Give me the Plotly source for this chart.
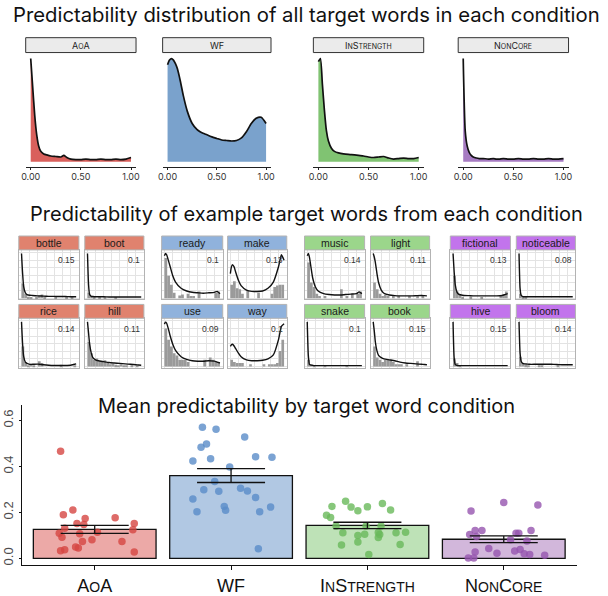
import plotly.graph_objects as go

W, H = 608, 596

# ---------------- data ----------------
CONDITIONS = ["AoA", "WF", "InStrength", "NonCore"]

# overall predictability densities (peak-normalised), one per condition
TOP_X = [0, 0.02, 0.04, 0.06, 0.08, 0.1, 0.13, 0.16, 0.2, 0.25, 0.3, 0.33, 0.36,
         0.4, 0.45, 0.5, 0.55, 0.6, 0.65, 0.7, 0.75, 0.8, 0.85, 0.9, 0.95, 1.0]
dens_aoa = [1.0, 0.72, 0.45, 0.26, 0.15, 0.10, 0.075, 0.065, 0.055, 0.05, 0.045, 0.06, 0.04,
            0.025, 0.02, 0.02, 0.025, 0.02, 0.02, 0.025, 0.02, 0.02, 0.025, 0.02, 0.025, 0.04]
dens_wf = [0.94, 0.985, 1.0, 0.985, 0.95, 0.90, 0.78, 0.64, 0.49, 0.37, 0.31, 0.29, 0.275,
           0.26, 0.24, 0.225, 0.21, 0.205, 0.20, 0.205, 0.23, 0.29, 0.37, 0.42, 0.43, 0.37]
dens_instr = [0.97, 1.0, 0.75, 0.5, 0.3, 0.2, 0.13, 0.10, 0.085, 0.075, 0.07, 0.068, 0.065,
              0.06, 0.055, 0.045, 0.04, 0.045, 0.05, 0.035, 0.025, 0.03, 0.035, 0.03, 0.03, 0.04]
dens_noncore = [1.0, 0.30, 0.15, 0.09, 0.06, 0.045, 0.035, 0.03, 0.03, 0.025, 0.03, 0.025, 0.025,
                0.03, 0.025, 0.025, 0.03, 0.025, 0.025, 0.03, 0.025, 0.025, 0.03, 0.025, 0.025, 0.03]
TOP_DENS = [dens_aoa, dens_wf, dens_instr, dens_noncore]

# example words: histogram (20 bins of width 0.05) and density, peak-normalised
WORDS = ["bottle", "boot", "rice", "hill",
         "ready", "make", "use", "way",
         "music", "light", "snake", "book",
         "fictional", "noticeable", "hive", "bloom"]
WORD_LABELS = ["0.15", "0.1", "0.14", "0.11",
               "0.1", "0.13", "0.09", "0.1",
               "0.14", "0.11", "0.1", "0.15",
               "0.13", "0.08", "0.15", "0.14"]
BIN_CENTERS = [0.025 + 0.05 * i for i in range(20)]
HIST = {
    "bottle": [0.33, 0.10, 0.03, 0.02, 0, 0.02, 0.06, 0.08, 0.02, 0, 0, 0, 0.02, 0, 0, 0, 0.03, 0, 0.02, 0],
    "boot": [0.12, 0.05, 0.02, 0, 0.03, 0, 0.02, 0, 0, 0, 0.02, 0, 0, 0, 0, 0, 0, 0, 0, 0],
    "rice": [0.45, 0.10, 0.03, 0.06, 0.02, 0, 0.12, 0.08, 0, 0, 0, 0, 0, 0, 0.04, 0, 0, 0, 0, 0.02],
    "hill": [0.55, 0.30, 0.15, 0.18, 0.12, 0.10, 0.14, 0.08, 0.05, 0.06, 0.04, 0.03, 0.05, 0.03, 0.02, 0, 0.02, 0, 0.01, 0],
    "ready": [0.90, 0.50, 0.30, 0.12, 0, 0.06, 0.08, 0, 0.10, 0.05, 0.05, 0, 0.15, 0, 0, 0, 0, 0, 0.12, 0.15],
    "make": [0.30, 0.38, 0.22, 0.20, 0.10, 0, 0.16, 0, 0, 0, 0.12, 0, 0, 0, 0, 0.10, 0.25, 0.28, 0.30, 0.30],
    "use": [0.85, 0.60, 0.45, 0.30, 0.25, 0.15, 0.15, 0.15, 0.10, 0, 0, 0, 0, 0, 0.15, 0, 0.20, 0.15, 0.10, 0.10],
    "way": [0.15, 0.10, 0.08, 0.08, 0.08, 0, 0, 0.05, 0, 0, 0, 0, 0.05, 0, 0.05, 0.05, 0.05, 0.08, 0.35, 0.60],
    "music": [0.80, 0.35, 0.25, 0.10, 0.05, 0, 0.05, 0, 0, 0, 0, 0, 0.20, 0, 0.05, 0, 0.10, 0, 0.10, 0.15],
    "light": [0.35, 0.20, 0.10, 0.05, 0.08, 0.05, 0, 0.05, 0, 0.05, 0, 0, 0, 0.05, 0, 0, 0.05, 0, 0.05, 0],
    "snake": [0.15, 0.05, 0.02, 0, 0, 0, 0.02, 0, 0, 0, 0, 0, 0, 0, 0.02, 0, 0, 0, 0, 0],
    "book": [0.45, 0.20, 0.15, 0.10, 0.15, 0.15, 0.15, 0.10, 0.05, 0.05, 0.05, 0, 0.05, 0, 0, 0, 0.12, 0, 0, 0],
    "fictional": [0.50, 0.15, 0.08, 0.03, 0, 0, 0.03, 0, 0, 0, 0.02, 0, 0, 0, 0, 0, 0, 0.05, 0.08, 0.15],
    "noticeable": [0.10, 0.04, 0.03, 0, 0, 0, 0, 0, 0, 0, 0, 0, 0, 0, 0, 0, 0, 0, 0, 0],
    "hive": [0.18, 0.08, 0.02, 0, 0, 0, 0, 0, 0, 0, 0, 0, 0, 0, 0, 0, 0, 0, 0, 0],
    "bloom": [0.22, 0.08, 0.04, 0.02, 0, 0, 0, 0.02, 0.03, 0, 0, 0, 0, 0, 0.02, 0, 0, 0, 0, 0],
}
MINI_X = [0, 0.02, 0.04, 0.07, 0.1, 0.15, 0.2, 0.3, 0.4, 0.5, 0.6, 0.7, 0.8, 0.9, 0.95, 1.0]
MINI_DENS = {
    "bottle": [1.0, 0.55, 0.25, 0.12, 0.08, 0.065, 0.06, 0.05, 0.045, 0.04, 0.04, 0.035, 0.035, 0.03, 0.03, 0.03],
    "boot": [1.0, 0.30, 0.08, 0.04, 0.035, 0.03, 0.03, 0.03, 0.025, 0.025, 0.025, 0.025, 0.025, 0.025, 0.025, 0.025],
    "rice": [1.0, 0.50, 0.22, 0.10, 0.07, 0.05, 0.05, 0.055, 0.04, 0.03, 0.025, 0.025, 0.025, 0.03, 0.045, 0.06],
    "hill": [1.0, 0.75, 0.50, 0.30, 0.20, 0.15, 0.13, 0.11, 0.09, 0.08, 0.07, 0.06, 0.05, 0.04, 0.035, 0.03],
    "ready": [0.95, 1.0, 0.97, 0.85, 0.72, 0.5, 0.36, 0.22, 0.16, 0.13, 0.12, 0.11, 0.12, 0.13, 0.15, 0.10],
    "make": [0.55, 0.70, 0.75, 0.70, 0.58, 0.40, 0.28, 0.18, 0.15, 0.15, 0.16, 0.22, 0.36, 0.72, 0.97, 0.85],
    "use": [0.95, 1.0, 0.97, 0.85, 0.70, 0.50, 0.36, 0.22, 0.16, 0.13, 0.12, 0.12, 0.13, 0.12, 0.10, 0.08],
    "way": [0.45, 0.49, 0.50, 0.46, 0.40, 0.30, 0.22, 0.15, 0.13, 0.13, 0.14, 0.17, 0.26, 0.62, 0.90, 0.96],
    "music": [0.95, 1.0, 0.92, 0.68, 0.45, 0.25, 0.16, 0.10, 0.08, 0.07, 0.07, 0.08, 0.09, 0.10, 0.14, 0.10],
    "light": [1.0, 0.92, 0.80, 0.55, 0.35, 0.18, 0.11, 0.07, 0.055, 0.05, 0.05, 0.05, 0.055, 0.06, 0.055, 0.05],
    "snake": [1.0, 0.25, 0.05, 0.03, 0.025, 0.02, 0.02, 0.02, 0.02, 0.02, 0.02, 0.02, 0.02, 0.02, 0.02, 0.02],
    "book": [1.0, 0.80, 0.55, 0.35, 0.25, 0.20, 0.17, 0.15, 0.13, 0.10, 0.08, 0.07, 0.06, 0.05, 0.045, 0.04],
    "fictional": [1.0, 0.60, 0.30, 0.14, 0.09, 0.07, 0.06, 0.055, 0.05, 0.05, 0.05, 0.05, 0.05, 0.06, 0.08, 0.10],
    "noticeable": [1.0, 0.22, 0.06, 0.035, 0.03, 0.03, 0.03, 0.03, 0.03, 0.03, 0.03, 0.03, 0.03, 0.03, 0.03, 0.03],
    "hive": [1.0, 0.20, 0.05, 0.025, 0.02, 0.02, 0.02, 0.02, 0.02, 0.02, 0.02, 0.02, 0.02, 0.02, 0.02, 0.02],
    "bloom": [1.0, 0.30, 0.12, 0.07, 0.06, 0.055, 0.05, 0.05, 0.05, 0.05, 0.05, 0.045, 0.04, 0.04, 0.04, 0.04],
}

# mean predictability per condition with standard errors
MEANS = [0.126, 0.36, 0.143, 0.083]
SE = [0.017, 0.03, 0.014, 0.015]

# per-word predictability (jitter offsets in category units)
aoa_vals = [0.466, 0.19, 0.21, 0.173, 0.152, 0.147, 0.131, 0.109, 0.107, 0.114, 0.092,
            0.081, 0.073, 0.049, 0.045, 0.037, 0.033, 0.177, 0.152, 0.124, 0.073, 0.027]
aoa_jit = [-0.25, -0.23, -0.16, -0.07, -0.13, -0.08, -0.22, -0.26, -0.11, 0.02, -0.24,
           -0.02, -0.09, -0.14, -0.12, -0.22, -0.25, 0.15, 0.29, 0.28, 0.20, 0.29]
wf_vals = [0.570, 0.562, 0.528, 0.498, 0.483, 0.433, 0.423, 0.442, 0.44, 0.397, 0.334, 0.298,
           0.292, 0.305, 0.293, 0.258, 0.265, 0.226, 0.209, 0.203, 0.203, 0.223, 0.042]
wf_jit = [-0.21, -0.11, 0.10, -0.18, -0.22, -0.15, -0.28, 0.18, 0.30, -0.01, -0.12, -0.20,
          -0.09, 0.07, 0.12, -0.28, 0.18, -0.05, -0.04, -0.25, 0.21, 0.29, 0.20]
instr_vals = [0.248, 0.239, 0.226, 0.223, 0.224, 0.207, 0.21, 0.187, 0.178, 0.141, 0.141, 0.141,
              0.111, 0.099, 0.105, 0.112, 0.104, 0.111, 0.114, 0.091, 0.058, 0.071, 0.06, 0.017]
instr_jit = [-0.16, 0.11, -0.26, -0.12, 0.0, -0.07, 0.17, -0.30, -0.27, -0.23, 0.10, -0.01,
             -0.18, -0.07, -0.02, 0.08, 0.09, 0.21, 0.28, 0.08, -0.19, -0.07, 0.24, 0.01]
noncore_vals = [0.243, 0.232, 0.206, 0.121, 0.121, 0.121, 0.104, 0.095, 0.109, 0.109, 0.081,
                0.075, 0.043, 0.027, 0.022, 0.032, 0.038, 0.02, 0.017, 0.013, 0.001, 0.001]
noncore_jit = [0.0, 0.25, -0.24, -0.21, -0.16, 0.20, -0.25, -0.20, 0.09, 0.11, 0.05,
               0.17, -0.11, -0.21, -0.05, 0.08, 0.12, 0.15, 0.19, 0.30, -0.26, -0.22]
POINT_VALS = [aoa_vals, wf_vals, instr_vals, noncore_vals]
POINT_JIT = [aoa_jit, wf_jit, instr_jit, noncore_jit]

# ---------------- styling ----------------
FILL = ["#d9605c", "#7aa2cc", "#80c372", "#a67bc2"]
STRIP_COL = ["#e0826e", "#90b2dc", "#9bd68b", "#c274ec"]
BAR_FILL = ["rgba(217,83,79,0.5)", "rgba(100,145,200,0.5)",
            "rgba(110,190,95,0.45)", "rgba(155,95,175,0.45)"]
POINT_COL = ["rgba(214,70,66,0.8)", "rgba(90,140,200,0.8)",
             "rgba(105,185,90,0.8)", "rgba(150,85,175,0.8)"]

TITLE_FONT = "Inter, Lato, sans-serif"
SANS = "'Liberation Sans', Arial, sans-serif"


def fx(v):
    return v / W


def fy(v):
    return 1 - v / H


def small_caps(word, big, small):
    """Render mixed-case text as small capitals using sized spans."""
    out, i = "", 0
    while i < len(word):
        ch = word[i]
        if ch.isupper():
            out += ch
            i += 1
        else:
            j = i
            while j < len(word) and not word[j].isupper():
                j += 1
            out += "<span style='font-size:%spx'>%s</span>" % (small, word[i:j].upper())
            i = j
    return out


fig = go.Figure()
layout = dict(width=W, height=H, margin=dict(l=0, r=0, t=0, b=0),
              paper_bgcolor="white", plot_bgcolor="white", showlegend=False,
              shapes=[], annotations=[])
counter = [0]


def add_axes(xbox, ybox, xopts, yopts):
    counter[0] += 1
    s = "" if counter[0] == 1 else str(counter[0])
    layout["xaxis" + s] = dict(domain=[fx(xbox[0]), fx(xbox[1])], anchor="y" + s, **xopts)
    layout["yaxis" + s] = dict(domain=[fy(ybox[1]), fy(ybox[0])], anchor="x" + s, **yopts)
    return "x" + s, "y" + s


def strip(x0, x1, y0, y1, fill, line, text, size, family, color="#1a1a1a"):
    layout["shapes"].append(dict(type="rect", xref="paper", yref="paper",
                                 x0=fx(x0), x1=fx(x1), y0=fy(y1), y1=fy(y0),
                                 fillcolor=fill, line=dict(color=line, width=1), layer="above"))
    layout["annotations"].append(dict(xref="paper", yref="paper", x=fx((x0 + x1) / 2),
                                      y=fy((y0 + y1) / 2), text=text, showarrow=False,
                                      xanchor="center", yanchor="middle",
                                      font=dict(size=size, family=family, color=color)))


def title(text, y, size):
    layout["annotations"].append(dict(xref="paper", yref="paper", x=fx(306), y=fy(y),
                                      text=text, showarrow=False, xanchor="center",
                                      yanchor="middle",
                                      font=dict(size=size, family=TITLE_FONT, color="#111111")))


# ---------------- row 1: condition densities ----------------
title("Predictability distribution of all target words in each condition", 15, 20.3)
TOP_BOXES = [(21, 133), (160, 270), (313, 425), (460, 572)]
for c, (x0, x1) in enumerate(TOP_BOXES):
    xa, ya = add_axes(
        (x0, x1), (53, 168),
        dict(range=[-0.05, 1.05], tickvals=[0, 0.5, 1], ticktext=["0.00", "0.50", "1.00"],
             showline=True, linecolor="#222222", linewidth=1, showgrid=False, zeroline=False,
             ticks="outside", ticklen=2, tickcolor="#222222",
             tickfont=dict(size=9, family=TITLE_FONT, color="#333333")),
        dict(range=[-0.048, 1.058], visible=False, showgrid=False, zeroline=False))
    fig.add_trace(go.Scatter(x=TOP_X, y=TOP_DENS[c], xaxis=xa, yaxis=ya, mode="lines",
                             fill="tozeroy", fillcolor=FILL[c],
                             line=dict(color="#111111", width=1.7, shape="spline", smoothing=0.6),
                             hoverinfo="skip"))
    strip(x0, x1, 38, 53, "#ebebeb", "#333333", small_caps(CONDITIONS[c], 9, 7), 9,
          TITLE_FONT, "#222222")

# ---------------- row 2: example words ----------------
title("Predictability of example target words from each condition", 216, 20)
GROUP_COLS = [[(14, 75), (81, 141)], [(159, 221), (226, 286)],
              [(304, 365), (371, 431)], [(452, 513), (519, 579)]]
ROWS = [((238, 252), (252, 302)), ((307, 321), (321, 371))]
for w, word in enumerate(WORDS):
    g, i = w // 4, w % 4
    (sx0, sx1) = GROUP_COLS[g][i % 2]
    (st, pl) = ROWS[i // 2]
    xa, ya = add_axes(
        (sx0, sx1), pl,
        dict(range=[-0.05, 1.05], tick0=0, dtick=0.15, showticklabels=False, ticks="",
             showgrid=True, gridcolor="#e3e3e3", gridwidth=1, zeroline=False,
             showline=True, mirror=True, linecolor="#b3b3b3", linewidth=1),
        dict(range=[-0.03, 1.08], tick0=0, dtick=0.17, showticklabels=False, ticks="",
             showgrid=True, gridcolor="#e3e3e3", gridwidth=1, zeroline=False,
             showline=True, mirror=True, linecolor="#b3b3b3", linewidth=1))
    fig.add_trace(go.Bar(x=BIN_CENTERS, y=HIST[word], width=0.05, xaxis=xa, yaxis=ya,
                         marker=dict(color="#9a9a9a", line=dict(width=0)), hoverinfo="skip"))
    fig.add_trace(go.Scatter(x=MINI_X, y=MINI_DENS[word], xaxis=xa, yaxis=ya, mode="lines",
                             line=dict(color="#111111", width=1.4, shape="spline", smoothing=0.5),
                             hoverinfo="skip"))
    strip(sx0, sx1, st[0], st[1], STRIP_COL[g], "#b3b3b3", word, 10.5, SANS)
    layout["annotations"].append(dict(xref=xa + " domain", yref=ya + " domain", x=0.97, y=0.93,
                                      text=WORD_LABELS[w], showarrow=False, xanchor="right",
                                      yanchor="top",
                                      font=dict(size=8.5, family=SANS, color="#333333")))

# ---------------- row 3: mean predictability bars ----------------
title("Mean predictability by target word condition", 409, 20)
CAT_POS = [1, 2, 3, 4]
xa, ya = add_axes(
    (17, 581), (408, 570),
    dict(range=[0.465, 4.54], tickvals=CAT_POS,
         ticktext=[small_caps(c, 18, 14) for c in CONDITIONS],
         showline=True, linecolor="#111111", linewidth=1.2, showgrid=False, zeroline=False,
         ticks="outside", ticklen=4, tickcolor="#111111",
         tickfont=dict(size=18, family=SANS, color="#111111")),
    dict(range=[-0.030, 0.669], tickvals=[0, 0.2, 0.4, 0.6],
         ticktext=["0.0", "0.2", "0.4", "0.6"], tickangle=-90,
         showline=True, linecolor="#111111", linewidth=1.2, showgrid=False, zeroline=False,
         ticks="outside", ticklen=2, tickcolor="#111111",
         tickfont=dict(size=13, family=SANS, color="#4d4d4d")))
fig.add_trace(go.Bar(x=CAT_POS, y=MEANS, width=0.9, xaxis=xa, yaxis=ya,
                     marker=dict(color=BAR_FILL, line=dict(color="#111111", width=1.3)),
                     hoverinfo="skip"))
for c in range(4):
    fig.add_trace(go.Scatter(x=[CAT_POS[c] + j for j in POINT_JIT[c]], y=POINT_VALS[c],
                             xaxis=xa, yaxis=ya, mode="markers",
                             marker=dict(size=7.5, color=POINT_COL[c], line=dict(width=0)),
                             hoverinfo="skip"))
fig.add_trace(go.Scatter(x=CAT_POS, y=MEANS, xaxis=xa, yaxis=ya, mode="markers",
                         marker=dict(size=1, opacity=0),
                         error_y=dict(type="data", array=SE, visible=True, color="#111111",
                                      thickness=1.3, width=34),
                         hoverinfo="skip"))

fig.update_layout(**layout)
fig.write_html("out.html")
